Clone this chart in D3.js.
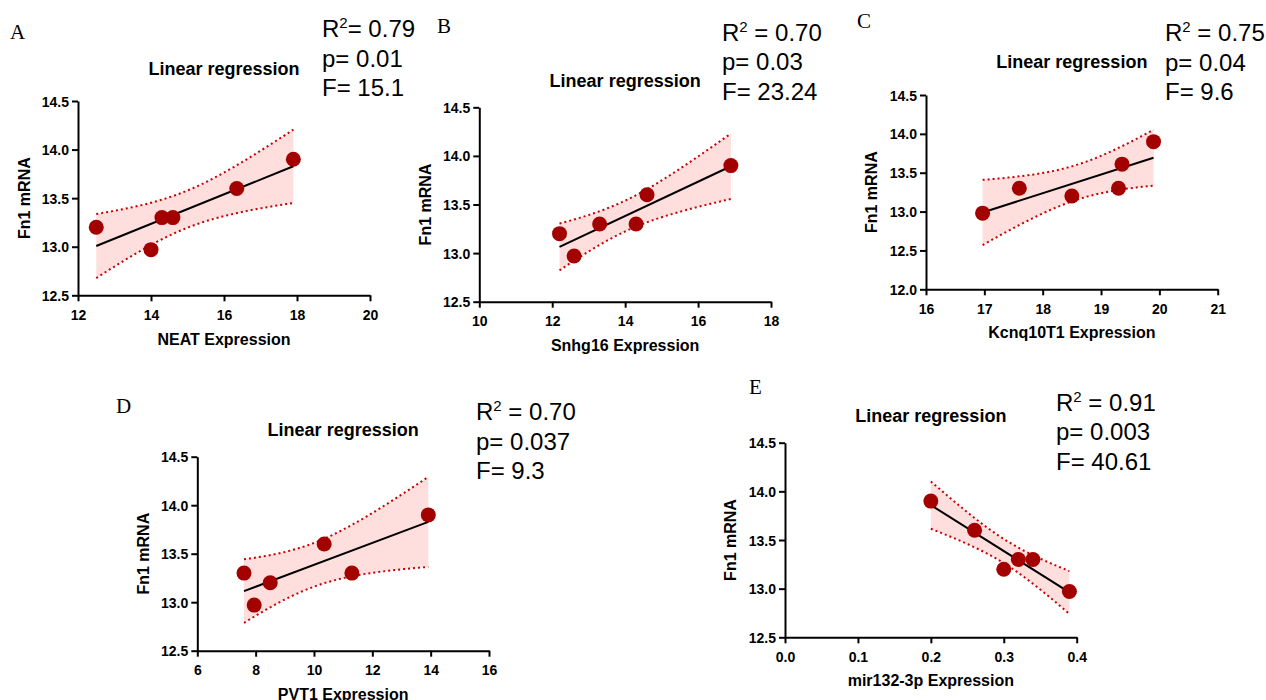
<!DOCTYPE html>
<html>
<head>
<meta charset="utf-8">
<script src="https://cdn.jsdelivr.net/npm/d3@7"></script>
<style>
  html, body { margin: 0; padding: 0; background: #fff; }
  svg { display: block; }
  .tick text { font-family: "Liberation Sans", Arial, sans-serif; font-weight: bold; font-size: 14px; fill: #000; }
</style>
</head>
<body>
<svg id="chart" width="1266" height="700"></svg>
<script>
// ---------------- data ----------------
const panelLetters = ["A", "B", "C", "D", "E"];
const xLabels = ["NEAT Expression", "Snhg16 Expression", "Kcnq10T1 Expression", "PVT1 Expression", "mir132-3p Expression"];
const yLabel = "Fn1 mRNA";
const titleText = "Linear regression";

const xA = [12.5, 14.0, 14.3, 14.6, 16.35, 17.9];
const yA = [13.2, 12.97, 13.3, 13.3, 13.6, 13.9];
const xB = [12.2, 12.6, 13.3, 14.3, 14.6, 16.9];
const yB = [13.2, 12.97, 13.3, 13.3, 13.6, 13.9];
const xC = [16.97, 17.6, 18.5, 19.3, 19.36, 19.9];
const yC = [12.98, 13.3, 13.2, 13.3, 13.61, 13.9];
const xD = [7.6, 7.95, 8.5, 10.35, 11.3, 13.92];
const yD = [13.3, 12.97, 13.2, 13.6, 13.3, 13.9];
const xE = [0.2, 0.26, 0.3, 0.32, 0.34, 0.39];
const yE = [13.9, 13.6, 13.2, 13.3, 13.3, 12.97];

const xTicksA = [12, 14, 16, 18, 20];
const xTicksB = [10, 12, 14, 16, 18];
const xTicksC = [16, 17, 18, 19, 20, 21];
const xTicksD = [6, 8, 10, 12, 14, 16];
const xTicksE = [0.0, 0.1, 0.2, 0.3, 0.4];
const yTicksStd = [12.5, 13.0, 13.5, 14.0, 14.5];
const yTicksC = [12.0, 12.5, 13.0, 13.5, 14.0, 14.5];

const statR2 = ["0.79", "0.70", "0.75", "0.70", "0.91"];
const statP = ["0.01", "0.03", "0.04", "0.037", "0.003"];
const statF = ["15.1", "23.24", "9.6", "9.3", "40.61"];
const r2Spacer = ["", " ", " ", " ", " "];

// ---------------- layout ----------------
const layout = [
  { l: 78,    r: 370,    t: 101,   b: 295.3, letter: [10, 39],   title: 75,    stats: [322, 37.3],  yl: 30,  xl: 345 },
  { l: 479.3, r: 771,    t: 107.3, b: 301.7, letter: [437, 33],  title: 87,    stats: [722, 40.7],  yl: 431, xl: 351 },
  { l: 926,   r: 1217.7, t: 95,    b: 289.3, letter: [857, 28],  title: 68.3,  stats: [1165, 41],   yl: 877, xl: 338 },
  { l: 197.3, r: 489,    t: 456.7, b: 650.7, letter: [116, 413], title: 436,   stats: [476, 420],   yl: 149, xl: 700 },
  { l: 785,   r: 1076.7, t: 442.7, b: 637.3, letter: [749, 394], title: 421.7, stats: [1056, 410.7], yl: 736, xl: 686 }
];

const panels = [
  { xs: xA, ys: yA, xt: xTicksA, yt: yTicksStd, xf: d3.format("d") },
  { xs: xB, ys: yB, xt: xTicksB, yt: yTicksStd, xf: d3.format("d") },
  { xs: xC, ys: yC, xt: xTicksC, yt: yTicksC,   xf: d3.format("d") },
  { xs: xD, ys: yD, xt: xTicksD, yt: yTicksStd, xf: d3.format("d") },
  { xs: xE, ys: yE, xt: xTicksE, yt: yTicksStd, xf: d3.format(".1f") }
];

// least-squares fit with 95% confidence band of the regression line
function fit(xs, ys) {
  const n = xs.length;
  const mx = d3.mean(xs), my = d3.mean(ys);
  let sxx = 0, sxy = 0;
  xs.forEach((x, i) => { sxx += (x - mx) ** 2; sxy += (x - mx) * (ys[i] - my); });
  const b = sxy / sxx, a = my - b * mx;
  let sse = 0;
  xs.forEach((x, i) => { sse += (ys[i] - (a + b * x)) ** 2; });
  const s = Math.sqrt(sse / (n - 2));
  const tTable = { 1: 12.706, 2: 4.303, 3: 3.182, 4: 2.776, 5: 2.571, 6: 2.447, 7: 2.365, 8: 2.306 };
  const t = tTable[n - 2];
  const half = x => t * s * Math.sqrt(1 / n + (x - mx) ** 2 / sxx);
  return { a, b, half };
}

const svg = d3.select("#chart");
const sans = "'Liberation Sans', Arial, sans-serif";
const serif = "'Liberation Serif', 'Times New Roman', serif";

panels.forEach((p, i) => {
  const L = layout[i];
  const x = d3.scaleLinear().domain(d3.extent(p.xt)).range([L.l, L.r]);
  const y = d3.scaleLinear().domain(d3.extent(p.yt)).range([L.b, L.t]);
  const g = svg.append("g");

  // regression + band
  const f = fit(p.xs, p.ys);
  const [x0, x1] = d3.extent(p.xs);
  const samples = d3.range(0, 61).map(k => x0 + (x1 - x0) * k / 60);
  const band = samples.map(v => ({ v, m: f.a + f.b * v, h: f.half(v) }));

  g.append("path")
    .attr("d", d3.area().x(d => x(d.v)).y0(d => y(d.m - d.h)).y1(d => y(d.m + d.h))(band))
    .attr("fill", "#ffdede").attr("stroke", "none");
  [1, -1].forEach(sg => {
    g.append("path")
      .attr("d", d3.line().x(d => x(d.v)).y(d => y(d.m + sg * d.h))(band))
      .attr("fill", "none").attr("stroke", "#c80000").attr("stroke-width", 2)
      .attr("stroke-dasharray", "2,3");
  });
  g.append("line")
    .attr("x1", x(x0)).attr("y1", y(f.a + f.b * x0))
    .attr("x2", x(x1)).attr("y2", y(f.a + f.b * x1))
    .attr("stroke", "#000").attr("stroke-width", 2);

  // axes
  const ax = g.append("g").attr("transform", `translate(0,${L.b})`)
    .call(d3.axisBottom(x).tickValues(p.xt).tickFormat(p.xf).tickSize(6).tickSizeOuter(0));
  const ay = g.append("g").attr("transform", `translate(${L.l},0)`)
    .call(d3.axisLeft(y).tickValues(p.yt).tickFormat(d3.format(".1f")).tickSize(6).tickSizeOuter(0));
  [ax, ay].forEach(a => {
    a.select(".domain").attr("stroke", "#000").attr("stroke-width", 2);
    a.selectAll(".tick line").attr("stroke", "#000").attr("stroke-width", 2);
  });
  ax.selectAll(".tick text").attr("y", 24.5).attr("dy", 0);
  ay.selectAll(".tick text").attr("x", -9).attr("dy", "0.36em");

  // points
  g.selectAll("circle.pt").data(p.xs.map((v, k) => [v, p.ys[k]])).join("circle")
    .attr("class", "pt")
    .attr("cx", d => x(d[0])).attr("cy", d => y(d[1])).attr("r", 7.5)
    .attr("fill", "#a30000");

  // texts
  const cx = (L.l + L.r) / 2;
  g.append("text").attr("x", cx).attr("y", L.title).attr("text-anchor", "middle")
    .attr("font-family", sans).attr("font-weight", "bold").attr("font-size", 18)
    .text(titleText);
  g.append("text").attr("x", cx).attr("y", L.xl).attr("text-anchor", "middle")
    .attr("font-family", sans).attr("font-weight", "bold").attr("font-size", 16)
    .text(xLabels[i]);
  g.append("text").attr("transform", `translate(${L.yl},${(L.t + L.b) / 2}) rotate(-90)`)
    .attr("text-anchor", "middle")
    .attr("font-family", sans).attr("font-weight", "bold").attr("font-size", 16)
    .text(yLabel);
  g.append("text").attr("x", L.letter[0]).attr("y", L.letter[1])
    .attr("font-family", serif).attr("font-size", 21).text(panelLetters[i]);

  const st = g.append("g").attr("font-family", sans).attr("font-size", 24).attr("fill", "#000");
  const t1 = st.append("text").attr("x", L.stats[0]).attr("y", L.stats[1]);
  t1.append("tspan").text("R");
  t1.append("tspan").attr("font-size", 15).attr("dy", -9).text("2");
  t1.append("tspan").attr("dy", 9).text(r2Spacer[i] + "= " + statR2[i]);
  st.append("text").attr("x", L.stats[0]).attr("y", L.stats[1] + 29.5).text("p= " + statP[i]);
  st.append("text").attr("x", L.stats[0]).attr("y", L.stats[1] + 59).text("F= " + statF[i]);
});
</script>
</body>
</html>
